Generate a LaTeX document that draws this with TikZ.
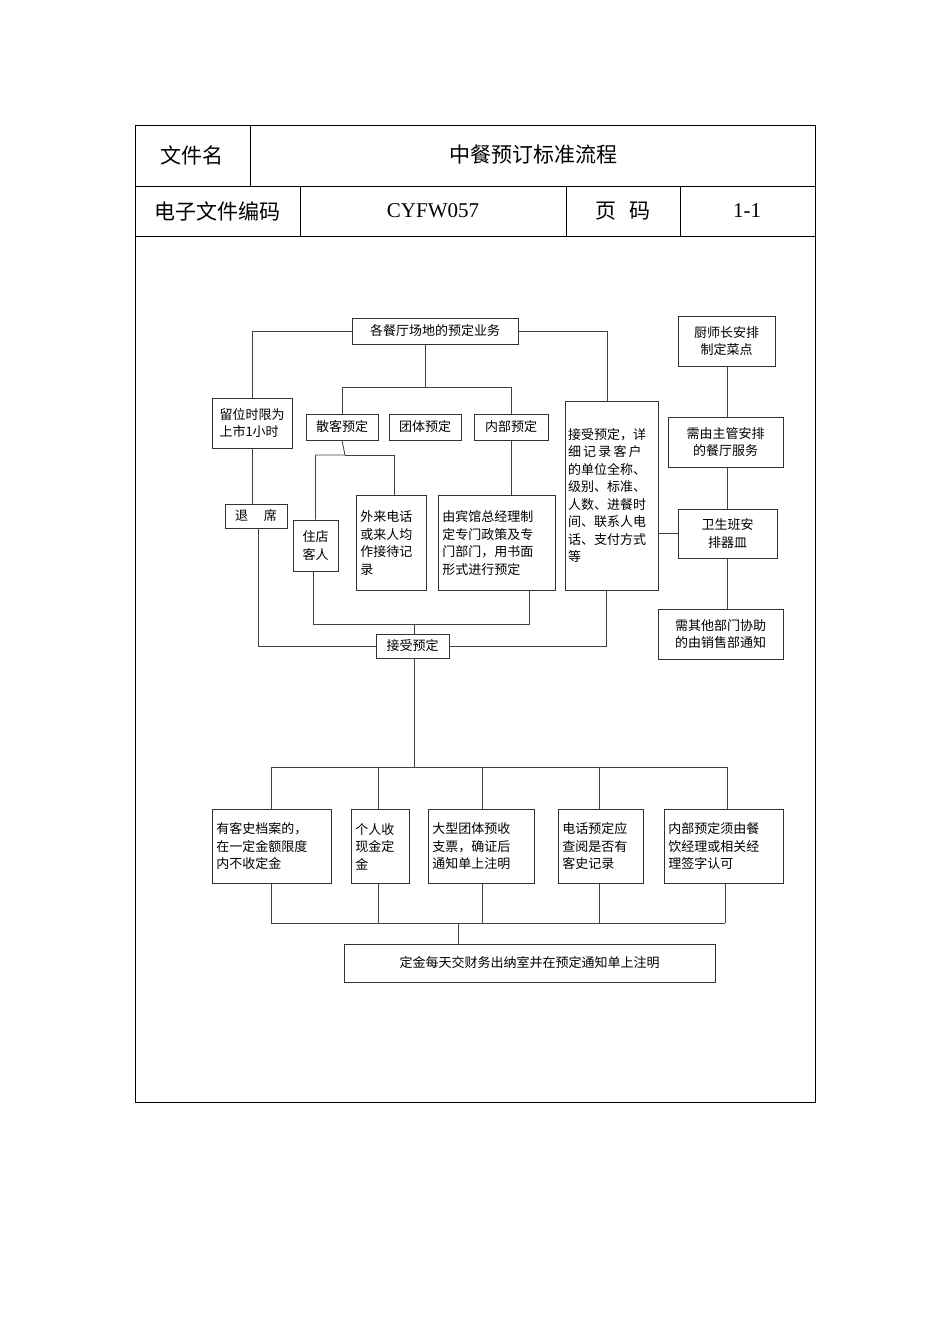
\documentclass[tikz,border=0pt]{standalone}
\usepackage{fontspec}
\setmainfont{Liberation Serif}
\newfontfamily\cjk{Noto Sans CJK SC}
\begin{document}
\begin{tikzpicture}[x=1pt,y=-1pt,
  box/.style={draw=black!80,line width=0.9pt,inner sep=3pt,font=\cjk\fontsize{13}{17.5}\selectfont,align=left},
  ln/.style={draw=black!75,line width=0.8pt},
  hd/.style={font=\cjk\fontsize{21}{24}\selectfont}]
\useasboundingbox (0,0) rectangle (950,1344);
% table
\draw[line width=0.8pt] (135,125) rectangle (815,1102);
\draw[line width=0.8pt] (135,186) -- (815,186) (135,236) -- (815,236)
  (250,125) -- (250,186) (300,186) -- (300,236) (566,186) -- (566,236) (680,186) -- (680,236);
\node[hd] (h1) at (192,155) {文件名};
\node[hd] (h2) at (533,155) {中餐预订标准流程};
\node[hd] (h3) at (217,211) {电子文件编码};
\node[font=\fontsize{21}{24}\selectfont] (h4) at (433,211) {CYFW057};
\node[hd] (h5) at (623,211) {页\hspace{0.6em}码};
\node[font=\fontsize{21}{24}\selectfont] (h6) at (747,211) {1-1};
% boxes
\node[box,minimum width=166,minimum height=26,align=center] (top) at (435,331) {各餐厅场地的预定业务};
\node[box,minimum width=80,minimum height=50] (liu) at (252,423) {留位时限为\\上市1小时};
\node[box,minimum width=72,minimum height=26,align=center] (sk) at (342,427) {散客预定};
\node[box,minimum width=72,minimum height=26,align=center] (tt) at (425,427) {团体预定};
\node[box,minimum width=74,minimum height=26,align=center] (nb) at (511,427) {内部预定};
\node[box,minimum width=93,minimum height=189,text width=87,inner sep=3pt] (js) at (611.5,495.5) {接受预定，详\\细\,记\,录\,客\,户\\的单位全称、\\级别、标准、\\人数、进餐时\\间、联系人电\\话、支付方式\\等};
\node[box,minimum width=62,minimum height=24,align=center] (tx) at (256,516) {退\hspace{1.2em}席};
\node[box,minimum width=45,minimum height=51] (zd) at (315.5,545.5) {住店\\客人};
\node[box,minimum width=70,minimum height=95,anchor=north west,text width=62] (wl) at (356,495) {外来电话\\或来人均\\作接待记\\录};
\node[box,minimum width=117,minimum height=95,anchor=north west,text width=109] (bg) at (438,495) {由宾馆总经理制\\定专门政策及专\\门部门，用书面\\形式进行预定};
\node[box,minimum width=73,minimum height=24,align=center] (jy) at (412.5,646) {接受预定};
\node[box,minimum width=97,minimum height=50,align=center] (r1) at (726.5,341) {厨师长安排\\制定菜点};
\node[box,minimum width=115,minimum height=50,align=center] (r2) at (725.5,442) {需由主管安排\\的餐厅服务};
\node[box,minimum width=99,minimum height=49,align=center] (r3) at (727.5,533.5) {卫生班安\\排器皿};
\node[box,minimum width=125,minimum height=50,align=center] (r4) at (720.5,634) {需其他部门协助\\的由销售部通知};
% bottom boxes
\node[box,minimum width=119,minimum height=74,anchor=north west,text width=111] (b1) at (212,809) {有客史档案的，\\在一定金额限度\\内不收定金};
\node[box,minimum width=58,minimum height=74,anchor=north west,text width=50] (b2) at (351,809) {个人收\\现金定\\金};
\node[box,minimum width=106,minimum height=74,anchor=north west,text width=98] (b3) at (428,809) {大型团体预收\\支票，确证后\\通知单上注明};
\node[box,minimum width=85,minimum height=74,anchor=north west,text width=77] (b4) at (558,809) {电话预定应\\查阅是否有\\客史记录};
\node[box,minimum width=119,minimum height=74,anchor=north west,text width=111] (b5) at (664,809) {内部预定须由餐\\饮经理或相关经\\理签字认可};
\node[box,minimum width=371,minimum height=38,align=center] (fin) at (529.5,963) {定金每天交财务出纳室并在预定通知单上注明};
% connectors
\draw[ln] (top.west) -| (liu.north);
\draw[ln] (top.east) -| (js.north -| 607,0);
\draw[ln] (top.south -| 425,0) -- (425,387) -| (sk.north);
\draw[ln] (425,387) -| (nb.north);
\draw[ln] (sk.south) -- (345,455) -| (zd.north);
\draw[ln] (345,455) -| (wl.north -| 394,0);
\draw[ln] (nb.south) -- (bg.north -| nb.south);
\draw[ln] (liu.south) -- (tx.north -| liu.south);
\draw[ln] (tx.south -| 258,0) |- (jy.west);
\draw[ln] (zd.south -| 313,0) |- (529,624) -- (bg.south -| 529,0);
\draw[ln] (414,624) -- (jy.north -| 414,0);
\draw[ln] (js.south -| 606,0) |- (jy.east);
\draw[ln] (r1.south -| 727,0) -- (r2.north -| 727,0);
\draw[ln] (r2.south -| 727,0) -- (r3.north -| 727,0);
\draw[ln] (r3.south -| 727,0) -- (r4.north -| 727,0);
\draw[ln] (r3.west) -- (js.east |- r3.west);
\draw[ln] (jy.south -| 414,0) -- (414,767);
\draw[ln] (271,767) -- (727,767);
\foreach \xx/\bb in {271/b1,378/b2,482/b3,599/b4,727/b5}{
  \draw[ln] (\xx,767) -- (\bb.north -| \xx,0);}
\foreach \xx/\bb in {271/b1,378/b2,482/b3,599/b4,725/b5}{
  \draw[ln] (\bb.south -| \xx,0) -- (\xx,923);}
\draw[ln] (271,923) -- (725,923);
\draw[ln] (458,923) -- (fin.north -| 458,0);
\end{tikzpicture}
\end{document}
